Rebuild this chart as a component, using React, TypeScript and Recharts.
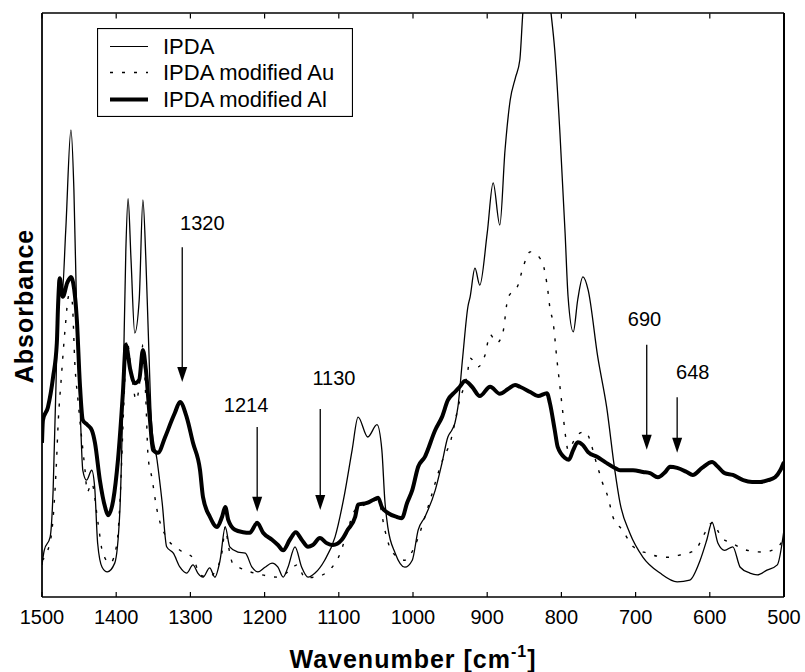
import React from 'react';
import {
  LineChart,
  Line,
  XAxis,
  YAxis,
  Legend,
  ReferenceLine,
  ReferenceDot,
} from 'recharts';

// Wavenumber (cm-1), absorbance (arbitrary units, 0-100 of plot height)
const ipdaPoints: [number, number][] = [
  [1500, 5.5], [1497, 8], [1489, 10.3], [1485, 18.3], [1481, 37], [1478, 54.6],
  [1473, 51.7], [1468, 62.8], [1461, 80.0], [1457, 69.7], [1453, 47.4], [1449, 33.7],
  [1445, 21.7], [1440, 20.0], [1433, 21.7], [1429, 18.8], [1425, 9.2], [1419, 5.1],
  [1412, 4.3], [1402, 5.8], [1395, 14.9], [1391, 33.7], [1387, 59.4], [1384, 68.2],
  [1380, 57.7], [1375, 45.2], [1369, 50.9], [1364, 68.0], [1360, 57.7], [1357, 46.2],
  [1352, 29.1], [1345, 23.5], [1338, 16.1], [1332, 8.6], [1323, 7.5], [1314, 5.1],
  [1305, 4.1], [1296.5, 5.5], [1290, 4.1], [1283, 3.4], [1274, 5.0], [1267, 3.4],
  [1260, 6.3], [1253, 12.0], [1247, 8.6], [1236, 7.7], [1226, 7.5], [1217, 5.1],
  [1209, 4.3], [1199.5, 5.1], [1190, 5.8], [1182, 5.1], [1175, 3.4], [1168.5, 5.1],
  [1159, 8.6], [1150, 5.1], [1141.5, 3.4], [1132, 4.1], [1119, 6.3], [1105, 10.3],
  [1092, 17.8], [1082, 25.2], [1074, 30.8], [1061, 27.4], [1048.5, 29.5], [1042, 25.2],
  [1038, 16.6], [1034, 12.0], [1024, 7.5], [1011, 5.1], [1001, 6.3], [993, 11.5],
  [984, 13.7], [970, 18.3], [961, 22.9], [953, 27.4], [947.5, 28.6], [943.5, 29.8],
  [939.5, 32.5], [933, 41.1], [926, 49.7], [923, 51.4], [916.5, 56.3], [910, 53.4],
  [900, 62.3], [892, 70.9], [883, 63.7], [876, 76.5], [869, 85.1], [862, 88.9],
  [856, 92.0], [852, 100], [843, 108], [833, 112], [822, 108], [814, 100],
  [809, 93.7], [802, 79.5], [795, 62.3], [791, 51.4], [784, 45.4], [778, 50.9],
  [771, 54.8], [764, 52.6], [751, 41.1], [739, 32.5], [728, 21.7], [721, 16.1],
  [708, 11.0], [690, 6.8], [667, 4.1], [644, 2.6], [627, 2.9], [613, 6.3],
  [604, 9.8], [597, 12.8], [589, 9.2], [580, 8.0], [569, 8.6], [559, 5.1],
  [546, 4.1], [536, 3.8], [523, 4.6], [509, 5.5], [500, 11.5],
];

const ipdaAuPoints: [number, number][] = [
  [1500, 6.3], [1493, 7.7], [1486.5, 11.5], [1481, 21.7], [1478, 30.3], [1474, 37.5],
  [1469, 45.7], [1463.6, 51.7], [1459.6, 50.9], [1455.5, 39.4], [1451.5, 33.7], [1449, 30.3],
  [1442, 21.7], [1439, 18.0], [1433, 19.5], [1424.5, 12.7], [1418, 7.5], [1408, 5.8],
  [1399, 9.2], [1395, 16.1], [1389.5, 33.7], [1385.5, 44.0], [1380, 38.9], [1373, 33.7],
  [1368, 37.2], [1364, 43.2], [1360, 33.7], [1357, 24.0], [1352, 20.5], [1345, 14.9],
  [1334, 10.6], [1314, 8.0], [1296.5, 6.7], [1287, 3.8], [1276, 3.4], [1267, 4.3],
  [1257, 8.0], [1253, 12.0], [1249, 8.9], [1243, 5.8], [1203.5, 3.8], [1182, 3.4],
  [1168.5, 4.3], [1156, 5.5], [1145.5, 3.3], [1132, 3.4], [1109, 5.1], [1098, 7.5],
  [1088, 11.5], [1078, 14.9], [1065, 15.8], [1047, 16.6], [1038, 11.5], [1031, 8.4],
  [1020, 6.8], [1011, 6.3], [997, 8.9], [981, 14.9], [960, 23.5], [950, 26.4],
  [937, 33.7], [927, 38.0], [923, 40.9], [912.5, 39.4], [903, 41.4], [896, 44.9],
  [887, 43.5], [879, 45.2], [872, 51.2], [858.5, 53.4], [852, 56.3], [842, 59.1],
  [830, 58.2], [822, 55.5], [818, 52.2], [815.5, 49.5], [811, 46.9], [806, 40.6],
  [803, 37.2], [798, 31.5], [795, 28.1], [791, 25.2], [779, 27.7], [768, 28.3],
  [752, 22.6], [745, 19.7], [737, 17.0], [730.5, 13.7], [718, 11.5], [703, 8.6],
  [684.5, 7.5], [658, 6.8], [640, 7.2], [620, 8.0], [606.5, 11.0], [597, 12.7],
  [583.5, 10.1], [570, 9.2], [550, 8.0], [528, 7.7], [509.5, 8.4], [500, 10.1],
];

const ipdaAlPoints: [number, number][] = [
  [1500, 26.4], [1498.7, 30.3], [1492, 32.5], [1485, 37.7], [1480, 43.5], [1478.4, 49.7],
  [1476, 54.6], [1472, 51.4], [1466, 53.8], [1461, 54.8], [1458, 53.8], [1453, 47.4],
  [1449, 36.6], [1445, 30.3], [1439, 29.5], [1433, 28.6], [1428.6, 26.4], [1422, 20.0],
  [1415, 15.4], [1411, 14.0], [1404, 16.6], [1397.6, 23.5], [1391, 34.9], [1387, 43.2],
  [1381, 38.9], [1375, 36.6], [1369, 37.2], [1364, 42.3], [1360, 38.9], [1354.5, 30.3],
  [1350.4, 25.2], [1343.7, 24.7], [1334, 27.4], [1325, 30.3], [1321, 31.5], [1314, 33.4],
  [1305, 30.8], [1296.5, 26.4], [1287, 21.7], [1283, 17.1], [1273.6, 13.7], [1264, 12.0],
  [1257.4, 13.7], [1253, 15.4], [1249, 13.2], [1240, 11.5], [1229, 11.1], [1220, 11.0],
  [1210, 12.7], [1202, 11.0], [1190, 9.8], [1182, 8.9], [1175, 8.0], [1166, 9.8],
  [1158, 11.1], [1150, 9.8], [1141.5, 8.6], [1135, 8.9], [1125.5, 10.1], [1116, 9.2],
  [1108, 8.9], [1096, 9.8], [1088, 11.5], [1078, 13.7], [1074, 15.8], [1062, 16.1],
  [1054, 16.6], [1047, 17.0], [1042, 15.4], [1034, 14.4], [1021.6, 13.7], [1015, 13.5],
  [1008, 16.1], [1001, 18.3], [993, 22.3], [984, 24.0], [970, 28.6], [961, 30.8],
  [953, 33.7], [943.5, 35.1], [937, 36.0], [930, 37.0], [920.5, 36.0], [910, 34.4],
  [896, 36.0], [883, 34.8], [872, 35.6], [862.5, 36.3], [856, 36.0], [842, 35.1],
  [831.5, 34.4], [819.5, 34.9], [815.5, 33.2], [809, 28.6], [805, 25.7], [795, 23.8],
  [790, 23.5], [784, 25.2], [778, 26.5], [771, 26.0], [764, 24.8], [752, 24.0],
  [741, 23.1], [728, 22.1], [721, 21.7], [703.5, 21.7], [690, 21.4], [680.6, 21.2],
  [670, 20.5], [660, 21.4], [653.6, 22.3], [644, 22.1], [631, 21.4], [623, 20.9],
  [610.5, 22.1], [597, 23.1], [589, 22.3], [580, 21.2], [569, 20.9], [555, 20.0],
  [543, 19.7], [532, 19.7], [521.6, 20.0], [512, 20.5], [505, 21.7], [500, 23.1],
];

const xTicks = [1500, 1400, 1300, 1200, 1100, 1000, 900, 800, 700, 600, 500];

const seriesNames = ['IPDA', 'IPDA modified Au', 'IPDA modified Al'];

// Peak annotations
const annotationLabels = ['1320', '1214', '1130', '690', '648'];
const labelWavenumbers = [1284, 1225, 1106.5, 688, 623];
const labelHeights = [64.0, 32.9, 37.5, 47.6, 38.5];
const arrowWavenumbers = [1311, 1210, 1125, 685, 644];
const arrowTops = [59.9, 29.1, 32.2, 43.2, 34.2];
const arrowTips = [36.8, 14.6, 14.9, 25.2, 24.7];

const toRows = (pts: [number, number][]) => pts.map(([w, v]) => ({ w, v }));
const ipda = toRows(ipdaPoints);
const ipdaAu = toRows(ipdaAuPoints);
const ipdaAl = toRows(ipdaAlPoints);

const FONT = '"Liberation Sans", Arial, Helvetica, sans-serif';
const MARGIN = { top: 13, right: 21, left: 41, bottom: 0 };

const ArrowShape = (props: any) => {
  const { x1, y1, x2, y2 } = props;
  if (x1 == null || y1 == null) return null;
  const tipY = Math.max(y1, y2);
  const topY = Math.min(y1, y2);
  const headLen = 15;
  const headHalf = 5;
  return (
    <g>
      <line x1={x1} y1={topY} x2={x2} y2={tipY - headLen + 1} stroke="#000" strokeWidth={1.3} />
      <polygon
        points={`${x2 - headHalf},${tipY - headLen} ${x2 + headHalf},${tipY - headLen} ${x2},${tipY}`}
        fill="#000"
      />
    </g>
  );
};

// Short inward tick on the top edge of the plot frame
const TopTick = (props: any) => {
  const { x1, y1, y2 } = props;
  if (x1 == null || y1 == null) return null;
  const top = Math.min(y1, y2);
  return <line x1={x1} x2={x1} y1={top} y2={top + 5} stroke="#000" strokeWidth={1.2} />;
};

const LegendBox = () => {
  const rowsY = [18.5, 44.5, 71.5];
  return (
    <svg width={256} height={89} style={{ display: 'block' }}>
      <rect x={0.5} y={0.5} width={255} height={88} fill="#fff" stroke="#000" strokeWidth={1.2} />
      <line x1={13} x2={51} y1={rowsY[0]} y2={rowsY[0]} stroke="#000" strokeWidth={1.2} />
      <line x1={13} x2={51} y1={rowsY[1]} y2={rowsY[1]} stroke="#000" strokeWidth={1.4} strokeDasharray="3 9" />
      <line x1={13} x2={51} y1={rowsY[2]} y2={rowsY[2]} stroke="#000" strokeWidth={4} />
      {seriesNames.map((n, i) => (
        <text key={n} x={66} y={rowsY[i]} dy="0.36em" fontSize={22} fontFamily={FONT} fill="#000">
          {n}
        </text>
      ))}
    </svg>
  );
};

export default function App() {
  return (
    <div style={{ position: 'absolute', left: 0, top: 0, width: 805, height: 672, background: '#fff' }}>
      <LineChart width={805} height={672} margin={MARGIN}>
        <XAxis
          xAxisId="bottom"
          dataKey="w"
          type="number"
          domain={[500, 1500]}
          ticks={xTicks}
          interval={0}
          reversed
          allowDataOverflow
          height={75}
          tickSize={-5}
          tickMargin={18}
          stroke="#000"
          axisLine={{ stroke: '#000', strokeWidth: 1.3 }}
          tickLine={{ stroke: '#000', strokeWidth: 1.2 }}
          tick={{ fontSize: 20, fill: '#000', fontFamily: FONT }}
          label={{
            content: (p: any) => {
              const vb = p.viewBox || { x: 42, y: 597, width: 742 };
              const plotTop = MARGIN.top;
              const plotBottom = vb.y;
              const left = vb.x;
              const right = vb.x + vb.width;
              return (
                <g>
                  {/* plot frame: top, left, right edges */}
                  <line x1={left} y1={plotTop} x2={right} y2={plotTop} stroke="#000" strokeWidth={1.3} />
                  <line x1={left} y1={plotTop} x2={left} y2={plotBottom} stroke="#000" strokeWidth={1.3} />
                  <line x1={right} y1={plotTop} x2={right} y2={plotBottom} stroke="#000" strokeWidth={2} />
                  <text
                    x={vb.x + vb.width / 2}
                    y={vb.y + 71}
                    textAnchor="middle"
                    fontSize={25}
                    fontWeight="bold"
                    letterSpacing={1}
                    fontFamily={FONT}
                    fill="#000"
                  >
                    Wavenumber [cm
                    <tspan dy={-11} fontSize={16}>-1</tspan>
                    <tspan dy={11}>]</tspan>
                  </text>
                </g>
              );
            },
          }}
        />
        <YAxis
          yAxisId="left"
          type="number"
          domain={[0, 100]}
          allowDataOverflow
          width={1}
          tick={false}
          tickLine={false}
          axisLine={{ stroke: '#000', strokeWidth: 1.3 }}
          label={{
            content: (p: any) => {
              const vb = p.viewBox || { x: 41, y: 13, height: 584 };
              const cx = vb.x - 8;
              const cy = vb.y + vb.height / 2 + 1;
              return (
                <text
                  x={cx}
                  y={cy}
                  transform={`rotate(-90, ${cx}, ${cy})`}
                  textAnchor="middle"
                  fontSize={25}
                  fontWeight="bold"
                  letterSpacing={1}
                  fontFamily={FONT}
                  fill="#000"
                >
                  Absorbance
                </text>
              );
            },
          }}
        />
        <Legend
          layout="horizontal"
          verticalAlign="middle"
          align="center"
          content={() => <LegendBox />}
          wrapperStyle={{ left: 97, top: 28, width: 256, height: 89 }}
        />
        <Line
          xAxisId="bottom"
          yAxisId="left"
          data={ipdaAu}
          dataKey="v"
          name={seriesNames[1]}
          type="monotone"
          stroke="#000"
          strokeWidth={1.4}
          strokeDasharray="3 9"
          dot={false}
          activeDot={false}
          isAnimationActive={false}
        />
        <Line
          xAxisId="bottom"
          yAxisId="left"
          data={ipda}
          dataKey="v"
          name={seriesNames[0]}
          type="monotone"
          stroke="#000"
          strokeWidth={1.3}
          dot={false}
          activeDot={false}
          isAnimationActive={false}
        />
        <Line
          xAxisId="bottom"
          yAxisId="left"
          data={ipdaAl}
          dataKey="v"
          name={seriesNames[2]}
          type="monotone"
          stroke="#000"
          strokeWidth={4}
          strokeLinejoin="round"
          dot={false}
          activeDot={false}
          isAnimationActive={false}
        />
        {xTicks.map((t) => (
          <ReferenceLine
            key={`top-tick-${t}`}
            xAxisId="bottom"
            yAxisId="left"
            ifOverflow="visible"
            segment={[
              { x: t, y: 99.9 },
              { x: t, y: 99 },
            ]}
            shape={TopTick}
          />
        ))}
        {annotationLabels.map((lab, i) => (
          <ReferenceLine
            key={`arrow-${lab}`}
            xAxisId="bottom"
            yAxisId="left"
            ifOverflow="visible"
            segment={[
              { x: arrowWavenumbers[i], y: arrowTops[i] },
              { x: arrowWavenumbers[i], y: arrowTips[i] },
            ]}
            shape={ArrowShape}
          />
        ))}
        {annotationLabels.map((lab, i) => (
          <ReferenceDot
            key={`label-${lab}`}
            xAxisId="bottom"
            yAxisId="left"
            x={labelWavenumbers[i]}
            y={labelHeights[i]}
            r={0}
            ifOverflow="visible"
            shape={(p: any) => (
              <text
                x={p.cx}
                y={p.cy}
                dy="0.36em"
                textAnchor="middle"
                fontSize={20}
                fontFamily={FONT}
                fill="#000"
              >
                {lab}
              </text>
            )}
          />
        ))}
      </LineChart>
    </div>
  );
}
